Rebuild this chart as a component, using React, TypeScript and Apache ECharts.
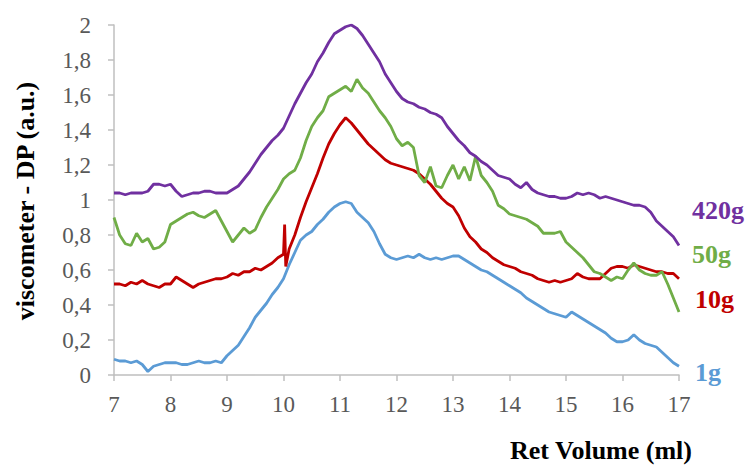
import React, { useEffect, useRef } from "react";
import * as echarts from "echarts";

// Retention volume grid: 7.0 .. 17.0 ml, step 0.1
const VOLUME_START = 7;
const VOLUME_STEP = 0.1;

const X_TICKS = [7, 8, 9, 10, 11, 12, 13, 14, 15, 16, 17];
const Y_MIN = 0;
const Y_MAX = 2;
const Y_STEP = 0.2;

const X_NAME = "Ret Volume (ml)";
const Y_NAME = "viscometer - DP (a.u.)";
const SERIES_NAMES = ["1g", "10g", "50g", "420g"];

const PURPLE_420G = [
  1.04, 1.04, 1.03, 1.04, 1.04, 1.04, 1.05, 1.09, 1.09, 1.08,
  1.09, 1.05, 1.02, 1.03, 1.04, 1.04, 1.05, 1.05, 1.04, 1.04,
  1.04, 1.06, 1.08, 1.12, 1.16, 1.21, 1.26, 1.30, 1.34, 1.37,
  1.41, 1.48, 1.55, 1.61, 1.67, 1.72, 1.79, 1.84, 1.90, 1.95,
  1.97, 1.99, 2.00, 1.98, 1.94, 1.89, 1.84, 1.79, 1.72, 1.67,
  1.62, 1.58, 1.56, 1.55, 1.53, 1.52, 1.50, 1.49, 1.47, 1.42,
  1.38, 1.34, 1.31, 1.27, 1.25, 1.22, 1.20, 1.17, 1.14, 1.13,
  1.12, 1.09, 1.07, 1.10, 1.06, 1.04, 1.03, 1.02, 1.02, 1.01,
  1.01, 1.02, 1.04, 1.03, 1.04, 1.03, 1.01, 1.02, 1.01, 1.00,
  0.99, 0.98, 0.97, 0.97, 0.96, 0.93, 0.88, 0.85, 0.82, 0.79,
  0.74,
];

const GREEN_50G = [
  0.90, 0.80, 0.75, 0.74, 0.81, 0.76, 0.78, 0.72, 0.73, 0.76,
  0.86, 0.88, 0.90, 0.92, 0.93, 0.91, 0.90, 0.92, 0.94, 0.88,
  0.82, 0.76, 0.80, 0.84, 0.81, 0.83, 0.90, 0.96, 1.01, 1.06,
  1.12, 1.15, 1.17, 1.24, 1.34, 1.42, 1.47, 1.51, 1.59, 1.61,
  1.63, 1.65, 1.62, 1.69, 1.64, 1.61, 1.56, 1.51, 1.47, 1.42,
  1.35, 1.31, 1.33, 1.30, 1.14, 1.10, 1.19, 1.08, 1.07, 1.14,
  1.20, 1.12, 1.19, 1.11, 1.25, 1.14, 1.10, 1.05, 0.97, 0.95,
  0.92, 0.91, 0.90, 0.89, 0.87, 0.85, 0.81, 0.81, 0.81, 0.82,
  0.76, 0.73, 0.70, 0.67, 0.63, 0.59, 0.58, 0.56, 0.54, 0.56,
  0.55, 0.60, 0.64, 0.60, 0.58, 0.57, 0.57, 0.59, 0.52, 0.44,
  0.36,
];

const RED_10G = [
  0.52, 0.52, 0.51, 0.53, 0.52, 0.54, 0.52, 0.51, 0.50, 0.52,
  0.52, 0.56, 0.54, 0.52, 0.50, 0.52, 0.53, 0.54, 0.55, 0.55,
  0.56, 0.58, 0.57, 0.59, 0.59, 0.61, 0.60, 0.62, 0.64, 0.67,
  0.69, 0.72, 0.80, 0.90, 0.99, 1.07, 1.15, 1.24, 1.32, 1.38,
  1.43, 1.47, 1.44, 1.40, 1.36, 1.32, 1.29, 1.26, 1.23, 1.21,
  1.20, 1.19, 1.18, 1.17, 1.15, 1.12, 1.09, 1.05, 1.01, 0.98,
  0.96, 0.91, 0.84, 0.79, 0.76, 0.72, 0.70, 0.67, 0.65, 0.63,
  0.62, 0.61, 0.59, 0.58, 0.57, 0.55, 0.54, 0.53, 0.54, 0.53,
  0.54, 0.55, 0.58, 0.56, 0.55, 0.55, 0.55, 0.58, 0.61, 0.62,
  0.62, 0.61, 0.63, 0.62, 0.61, 0.60, 0.59, 0.59, 0.58, 0.58,
  0.55,
];
// short artefact spike in the 10g trace near 10 ml: [volume, value]
const RED_SPIKE: [number, number][] = [
  [10.02, 0.86],
  [10.04, 0.62],
];

const BLUE_1G = [
  0.09, 0.08, 0.08, 0.07, 0.08, 0.06, 0.02, 0.05, 0.06, 0.07,
  0.07, 0.07, 0.06, 0.06, 0.07, 0.08, 0.07, 0.07, 0.08, 0.07,
  0.11, 0.14, 0.17, 0.22, 0.27, 0.33, 0.37, 0.41, 0.46, 0.50,
  0.55, 0.63, 0.70, 0.77, 0.80, 0.82, 0.86, 0.89, 0.93, 0.96,
  0.98, 0.99, 0.98, 0.93, 0.90, 0.87, 0.82, 0.75, 0.69, 0.67,
  0.66, 0.67, 0.68, 0.67, 0.69, 0.67, 0.66, 0.67, 0.66, 0.67,
  0.68, 0.68, 0.66, 0.64, 0.62, 0.60, 0.59, 0.57, 0.55, 0.53,
  0.51, 0.49, 0.47, 0.44, 0.42, 0.40, 0.38, 0.36, 0.35, 0.34,
  0.33, 0.36, 0.34, 0.32, 0.30, 0.28, 0.26, 0.24, 0.21, 0.19,
  0.19, 0.20, 0.23, 0.20, 0.18, 0.17, 0.16, 0.13, 0.10, 0.07,
  0.05,
];

const COLORS: Record<string, string> = {
  "1g": "#5B9BD5",
  "10g": "#C00000",
  "50g": "#70AD47",
  "420g": "#7030A0",
};

function toPairs(values: number[]): [number, number][] {
  return values.map((v, i) => [
    Math.round((VOLUME_START + i * VOLUME_STEP) * 100) / 100,
    v,
  ]);
}

function withExtra(pairs: [number, number][], extra: [number, number][]) {
  return [...pairs, ...extra].sort((a, b) => a[0] - b[0]);
}

export default function App() {
  const ref = useRef<HTMLDivElement>(null);

  useEffect(() => {
    if (!ref.current) return;
    const chart = echarts.init(ref.current, undefined, { renderer: "svg" });
    const serif = "Liberation Serif";

    const dataMap: Record<string, [number, number][]> = {
      "1g": toPairs(BLUE_1G),
      "10g": withExtra(toPairs(RED_10G), RED_SPIKE),
      "50g": toPairs(GREEN_50G),
      "420g": toPairs(PURPLE_420G),
    };

    const labelPos: Record<string, { x: number; y: number }> = {
      "420g": { x: 692, y: 210 },
      "50g": { x: 692, y: 254 },
      "10g": { x: 695, y: 299 },
      "1g": { x: 695, y: 372 },
    };

    const axisLineStyle = { color: "#BFBFBF", width: 1.5 };

    chart.setOption({
      animation: false,
      backgroundColor: "#ffffff",
      grid: { left: 114, right: 67, top: 25, bottom: 91, containLabel: false },
      xAxis: {
        type: "value",
        min: X_TICKS[0],
        max: X_TICKS[X_TICKS.length - 1],
        interval: 1,
        axisLine: { show: true, lineStyle: axisLineStyle },
        axisTick: { show: true, inside: false, length: 6, lineStyle: axisLineStyle },
        splitLine: { show: false },
        axisLabel: {
          color: "#595959",
          fontFamily: serif,
          fontSize: 23,
          margin: 18,
        },
      },
      yAxis: {
        type: "value",
        min: Y_MIN,
        max: Y_MAX,
        interval: Y_STEP,
        axisLine: { show: true, lineStyle: axisLineStyle },
        axisTick: { show: true, inside: false, length: 6, lineStyle: axisLineStyle },
        splitLine: { show: false },
        axisLabel: {
          color: "#595959",
          fontFamily: serif,
          fontSize: 23,
          margin: 23,
          formatter: (v: number) => {
            const r = Math.round(v * 10) / 10;
            return Number.isInteger(r) ? String(r) : r.toFixed(1).replace(".", ",");
          },
        },
      },
      series: SERIES_NAMES.map((name) => ({
        name,
        type: "line",
        data: dataMap[name],
        showSymbol: false,
        symbol: "none",
        lineStyle: { color: COLORS[name], width: 2.8 },
        itemStyle: { color: COLORS[name] },
      })),
      graphic: [
        {
          type: "text",
          x: 25,
          y: 201,
          rotation: Math.PI / 2,
          style: {
            text: Y_NAME,
            font: `bold 26px ${serif}`,
            fill: "#000000",
            align: "center",
            verticalAlign: "middle",
          },
        },
        {
          type: "text",
          x: 601,
          y: 450,
          style: {
            text: X_NAME,
            font: `bold 26px ${serif}`,
            fill: "#000000",
            align: "center",
            verticalAlign: "middle",
          },
        },
        ...SERIES_NAMES.map((name) => ({
          type: "text",
          x: labelPos[name].x,
          y: labelPos[name].y,
          style: {
            text: name,
            font: `bold 26px ${serif}`,
            fill: COLORS[name],
            verticalAlign: "middle",
            align: "left",
          },
        })),
      ],
    });

    return () => chart.dispose();
  }, []);

  return (
    <div
      ref={ref}
      style={{ position: "fixed", left: 0, top: 0, width: 746, height: 466 }}
    />
  );
}
